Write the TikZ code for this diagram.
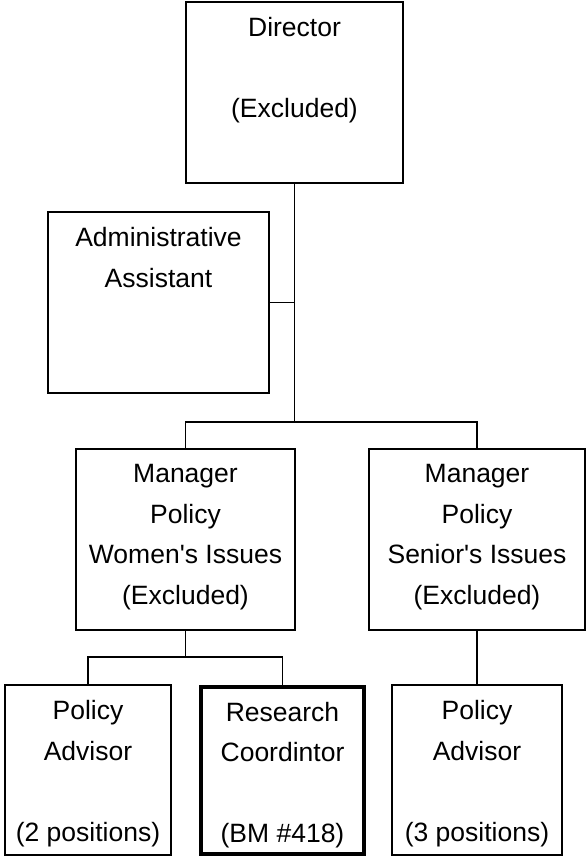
\documentclass[tikz,border=0pt]{standalone}
\usepackage{fontspec}
\setmainfont{Liberation Sans}[Ligatures=TeXOff]
\usepackage{tikz}
\usetikzlibrary{calc}

\begin{document}
\begin{tikzpicture}
  [x=1pt,y=-1pt,
   box/.style={draw,line width=1.3pt,inner sep=0pt},
   boxtext/.style={anchor=north,align=center,inner sep=0pt,yshift=-16pt,
     font=\fontsize{26.5}{40.5}\selectfont},
   link/.style={line width=1.3pt}
  ]
  \useasboundingbox (0,0) rectangle (587,856);

  % top of the chart
  \node[box,minimum width=217pt,minimum height=181pt,
    label={[boxtext]north:Director\\[40.5pt](Excluded)}] (dir) at (294.5,92.5) {};
  \node[box,minimum width=221pt,minimum height=181pt,
    label={[boxtext]north:Administrative\\Assistant}] (adm) at (158.5,302.5) {};

  % managers
  \node[box,minimum width=219pt,minimum height=181pt,
    label={[boxtext]north:Manager\\Policy\\Women's Issues\\(Excluded)}] (mgrW) at (185.5,539.5) {};
  \node[box,minimum width=216pt,minimum height=181pt,
    label={[boxtext]north:Manager\\Policy\\Senior's Issues\\(Excluded)}] (mgrS) at (477,539.5) {};

  % staff
  \node[box,minimum width=166pt,minimum height=170pt,
    label={[boxtext]north:Policy\\Advisor\\[40.5pt](2 positions)}] (pa1) at (88,770) {};
  \node[box,line width=4pt,minimum width=163pt,minimum height=167pt,
    label={[boxtext,yshift=-1.5pt]north:Research\\Coordintor\\[40.5pt](BM \#418)}] (rc) at (282.5,770) {};
  \node[box,minimum width=170pt,minimum height=170pt,
    label={[boxtext]north:Policy\\Advisor\\[40.5pt](3 positions)}] (pa2) at (477,770) {};

  %connections
  \coordinate (split) at (dir.south |- 0,422);
  \coordinate (wsplit) at (mgrW.south |- 0,657);
  \draw[link] (dir.south) -- (split);
  \draw[link] (adm.east) -- (adm.east -| dir.south);
  \draw[link] (mgrW.north) |- (split) -| (mgrS.north);
  \draw[link] (mgrW.south) -- (wsplit);
  \draw[link] (pa1.north) |- (wsplit) -| (rc.north);
  \draw[link] (mgrS.south) -- (pa2.north);
\end{tikzpicture}
\end{document}
